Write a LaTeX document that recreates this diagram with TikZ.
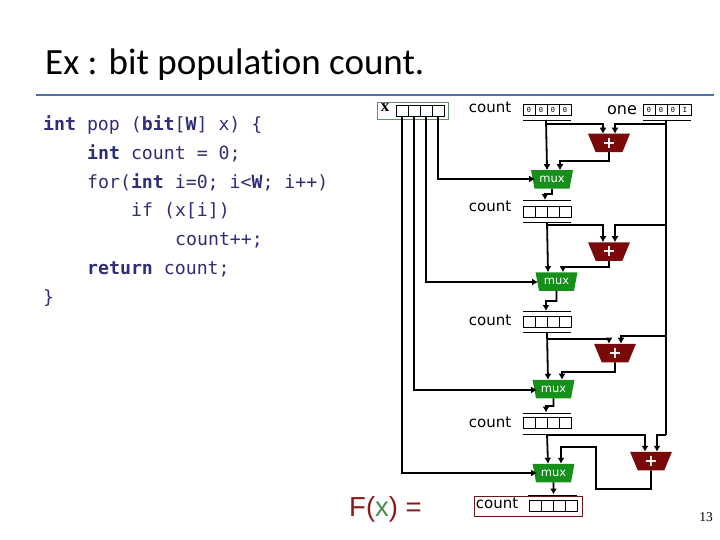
\documentclass[tikz,border=0pt]{standalone}
\usepackage{fontspec}
\setmainfont{DejaVu Sans}
\newfontfamily\titlefont[Ligatures=NoCommon]{Carlito}
\newfontfamily\codefont{DejaVu Sans Mono}
\newfontfamily\pagefont{Liberation Serif}
\newfontfamily\fxfont{Liberation Sans}
\usetikzlibrary{arrows.meta,shapes.geometric,calc}
\definecolor{rulecol}{HTML}{4F6FA8}
\definecolor{codecol}{HTML}{2E2E78}
\definecolor{muxcol}{HTML}{16901A}
\definecolor{addcol}{HTML}{7A0A0A}
\definecolor{xboxcol}{HTML}{5F8F6F}
\definecolor{fxred}{HTML}{8B1A1A}
\definecolor{fxgreen}{HTML}{4D8A4D}
\tikzset{
  wire/.style={line width=1.8pt,black,line join=miter},
  arr/.style={wire,-{Latex[length=6pt,width=7pt]}},
  bar/.style={line width=0.9pt,black},
  regbox/.style={draw=black,line width=0.8pt,minimum width=48pt,minimum height=11pt,inner sep=0pt,outer sep=0pt},
  cellline/.style={line width=0.8pt,black},
  digit/.style={inner sep=0pt,font=\codefont\fontsize{7}{7}\selectfont},
  lbl/.style={inner sep=0pt,font=\fontsize{15}{15}\selectfont},
  code/.style={anchor=base west,inner sep=0pt,text=codecol,font=\codefont\fontsize{18.2}{20}\selectfont},
  trap/.style={trapezium,shape border rotate=180,trapezium stretches=true,trapezium left angle=69,trapezium right angle=69,minimum width=42pt,minimum height=18.5pt,inner sep=0pt,outer sep=0pt,text=white},
  muxbox/.style={trap,fill=muxcol,font=\fontsize{11.5}{11}\selectfont},
  addbox/.style={trap,fill=addcol,font=\bfseries\fontsize{16}{15}\selectfont},
}
% name, cx, cy
\newcommand{\regcells}[3]{%
  \node[regbox] (#1) at (#2,#3) {};
  \foreach \k in {-12,0,12} \draw[cellline] ($(#1.north)+(\k,0)$) -- ($(#1.south)+(\k,0)$);
}
\newcommand{\regdigits}[5]{%
  \node[digit] (#1d1) at ($(#1.center)+(-18,0)$) {#2};
  \node[digit] (#1d2) at ($(#1.center)+(-6,0)$) {#3};
  \node[digit] (#1d3) at ($(#1.center)+(6,0)$) {#4};
  \node[digit] (#1d4) at ($(#1.center)+(18,0)$) {#5};
}
\begin{document}
\begin{tikzpicture}[x=1pt,y=-1pt]
\useasboundingbox (0,0) rectangle (720,540);
% title
\node[anchor=base west,inner sep=0pt,font=\titlefont\fontsize{37}{38}\selectfont] (title) at (45,75) {Ex : bit population count.};
\coordinate (ruleL) at (36,95); \coordinate (ruleR) at (714,95);
\draw[rulecol,line width=2pt] (ruleL) -- (ruleR);
% code
\node[code] (c1) at (43,131) {\textbf{int} pop (\textbf{bit}[\textbf{W}] x) \{};
\node[code] (c2) at (87,159.7) {\textbf{int} count = 0;};
\node[code] (c3) at (87,188.4) {for(\textbf{int} i=0; i<\textbf{W}; i++)};
\node[code] (c4) at (131,217) {if (x[i])};
\node[code] (c5) at (175,245.8) {count++;};
\node[code] (c6) at (87,274.5) {\textbf{return} count;};
\node[code] (c7) at (43,303) {\}};
% x register
\node[draw=xboxcol,line width=0.8pt,minimum width=71pt,minimum height=17pt,inner sep=0pt] (xbox) at (412.5,110.5) {};
\node[inner sep=0pt,font=\pagefont\bfseries\fontsize{17}{17}\selectfont] (xlbl) at (385,107.5) {x};
\regcells{xreg}{420}{110.5}
% registers
\regcells{ra}{547}{109.5}\regdigits{ra}{0}{0}{0}{0}
\regcells{rone}{667}{109.5}\regdigits{rone}{0}{0}{0}{I}
\regcells{rb}{547.5}{211.5}
\regcells{rc}{547.5}{321.5}
\regcells{rd}{547.5}{423}
\regcells{re}{553}{506}
% bars
\coordinate (baL) at (523,120); \coordinate (baR) at (571,120);
\coordinate (boL) at (643,120); \coordinate (boR) at (691,120);
\coordinate (bb0L) at (523,200); \coordinate (bb0R) at (571,200);
\coordinate (bb1L) at (523,222); \coordinate (bb1R) at (571,222);
\coordinate (bc0L) at (523,311); \coordinate (bc0R) at (571,311);
\coordinate (bc1L) at (523,332); \coordinate (bc1R) at (571,332);
\coordinate (bd0L) at (523,413); \coordinate (bd0R) at (571,413);
\coordinate (bd1L) at (523,434); \coordinate (bd1R) at (571,434);
\coordinate (be0L) at (528,495); \coordinate (be0R) at (577,495);
\foreach \a/\b in {baL/baR,boL/boR,bb0L/bb0R,bb1L/bb1R,bc0L/bc0R,bc1L/bc1R,bd0L/bd0R,bd1L/bd1R,be0L/be0R} \draw[bar] (\a) -- (\b);
% labels
\node[lbl] (la) at (490,107) {count};
\node[lbl,font=\fontsize{16}{16}\selectfont] (lone) at (622,110) {one};
\node[lbl] (lb) at (490,206) {count};
\node[lbl] (lc) at (490,320) {count};
\node[lbl] (ld) at (490,422) {count};
\node[lbl] (le) at (497,503) {count};
\node[draw=fxred!80!black,line width=0.8pt,minimum width=108pt,minimum height=20pt,inner sep=0pt] (result) at (528,506) {};
\node[anchor=base west,inner sep=0pt,font=\fxfont\fontsize{27.5}{28}\selectfont,text=fxred] (fx) at (349,516) {F(\textcolor{fxgreen}{x}) =};
\node[inner sep=0pt,font=\pagefont\fontsize{13.5}{14}\selectfont] (pg) at (706,517) {13};
% adders and muxes
\node[addbox] (add1) at (609,143) {+};
\node[muxbox] (mux1) at (552,179.5) {mux};
\node[addbox] (add2) at (609,251.5) {+};
\node[muxbox] (mux2) at (556.5,281.5) {mux};
\node[addbox] (add3) at (615,353) {+};
\node[muxbox] (mux3) at (553.5,389) {mux};
\node[addbox] (add4) at (651,461) {+};
\node[muxbox] (mux4) at (553.5,473) {mux};
% x wires
\draw[arr] (402,116) -- (402,473) -- (537,473);
\draw[arr] (414,116) -- (414,390) -- (537,390);
\draw[arr] (426,116) -- (426,282) -- (538,282);
\draw[arr] (438,116) -- (438,179) -- (535,179);
% one line
\draw[wire] (666,120) -- (666,435);
\draw[arr] (666,124) -- (615,124) -- (615,124 |- add1.north);
\draw[arr] (666,225) -- (615,225) -- (615,225 |- add2.north);
\draw[arr] (666,336) -- (621,336) -- (621,336 |- add3.north);
\draw[arr] (666,435) -- (657,435) -- (657,435 |- add4.north);
% count 1
\draw[arr] (546,120) -- (547,168) -- (547,168 |- mux1.north);
\draw[arr] (546,124) -- (603,124) -- (603,124 |- add1.north);
\draw[arr] (add1.south) -- (609,161) -- (560,161) -- (560,161 |- mux1.north);
\draw[arr] (mux1.south) -- (552,194) -- (545,194) -- (545,200);
% count 2
\draw[arr] (547,222) -- (548,222 |- mux2.north);
\draw[arr] (547,225) -- (603,225) -- (603,225 |- add2.north);
\draw[arr] (add2.south) -- (609,267) -- (563,267) -- (563,267 |- mux2.north);
\draw[arr] (mux2.south) -- (556.5,301) -- (546,301) -- (546,311);
% count 3
\draw[arr] (547,332) -- (548,332 |- mux3.north);
\draw[arr] (547,339) -- (609,339) -- (609,339 |- add3.north);
\draw[arr] (add3.south) -- (615,372) -- (562,372) -- (562,372 |- mux3.north);
\draw[arr] (mux3.south) -- (553.5,406) -- (546,406) -- (546,412.5);
% count 4
\draw[arr] (547,434) -- (548,434 |- mux4.north);
\draw[arr] (547,435) -- (645,435) -- (645,435 |- add4.north);
\draw[arr] (add4.south) -- (651,489) -- (596,489) -- (596,447) -- (561,447) -- (561,447 |- mux4.north);
\draw[arr] (mux4.south) -- (553.5,494.5);
\end{tikzpicture}
\end{document}
